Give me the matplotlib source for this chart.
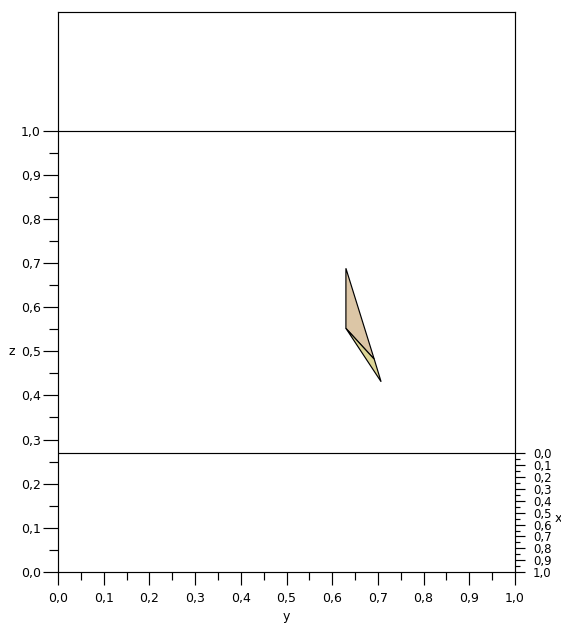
import matplotlib
matplotlib.use("Agg")
import matplotlib.pyplot as plt
from matplotlib.ticker import FuncFormatter
import numpy as np

# depth offset of the back face (x=0) in z units, oblique projection
depth = 0.2686

y_ticks = [0.0, 0.1, 0.2, 0.3, 0.4, 0.5, 0.6, 0.7, 0.8, 0.9, 1.0]
z_ticks = [0.0, 0.1, 0.2, 0.3, 0.4, 0.5, 0.6, 0.7, 0.8, 0.9, 1.0]
x_ticks = [0.0, 0.1, 0.2, 0.3, 0.4, 0.5, 0.6, 0.7, 0.8, 0.9, 1.0]
minor_ticks = [0.05, 0.15, 0.25, 0.35, 0.45, 0.55, 0.65, 0.75, 0.85, 0.95]

# projected faces of the solid (y, z)
face1_y = [0.630, 0.630, 0.692]
face1_z = [0.688, 0.552, 0.482]
face2_y = [0.630, 0.692, 0.707]
face2_z = [0.552, 0.482, 0.431]

plt.rcParams['font.family'] = ['DejaVu Sans']
comma = FuncFormatter(lambda v, _: f"{v:.1f}".replace('.', ','))
lw = 0.85

fig = plt.figure(figsize=(5.61, 6.23), dpi=100)
ax = fig.add_axes([58/561, 51/623, 457/561, 560/623])
ax.set_xlim(0, 1)
ax.set_ylim(0, 1 + depth)
for s in ax.spines.values():
    s.set_linewidth(lw)

ax.axhline(1.0, color='black', lw=lw)
ax.axhline(depth, color='black', lw=lw)

ax.fill(face1_y, face1_z, facecolor='#dcc6a6', edgecolor='black', lw=lw)
ax.fill(face2_y, face2_z, facecolor='#dcd596', edgecolor='black', lw=lw)

ax.set_xticks(y_ticks)
ax.set_xticks(minor_ticks, minor=True)
ax.set_yticks(z_ticks)
ax.set_yticks(minor_ticks, minor=True)
ax.xaxis.set_major_formatter(comma)
ax.yaxis.set_major_formatter(comma)
ax.tick_params(axis='x', which='major', length=9.4, width=lw, pad=5, labelsize=9)
ax.tick_params(axis='x', which='minor', length=5.8, width=lw)
ax.tick_params(axis='y', which='major', length=10.8, width=lw, pad=1.5, labelsize=9)
ax.tick_params(axis='y', which='minor', length=6.5, width=lw)

ax.set_xlabel('y', fontsize=9)
ax.xaxis.set_label_coords(0.5, -0.080)
ax.xaxis.label.set_va('center')
ax.set_ylabel('z', fontsize=9, rotation=0, va='center', ha='center')
ax.yaxis.set_label_coords(-0.1007, 0.5 / (1 + depth))

# x axis along the receding edge on the right
ax_x = ax.inset_axes([1.0, 0.0, 0.0005, depth], transform=ax.transData)
ax_x.set_ylim(1, 0)
ax_x.patch.set_visible(False)
for s in ax_x.spines.values():
    s.set_visible(False)
ax_x.set_xticks([])
ax_x.yaxis.tick_right()
ax_x.set_yticks(x_ticks)
ax_x.set_yticks(minor_ticks, minor=True)
ax_x.yaxis.set_major_formatter(comma)
ax_x.tick_params(axis='y', which='major', length=7.2, width=lw, pad=5.5, labelsize=8.5)
ax_x.tick_params(axis='y', which='minor', length=3.6, width=lw)
ax_x.set_ylabel('x', fontsize=9, rotation=0, va='center', ha='center')
ax_x.yaxis.set_label_position('right')
ax_x.yaxis.set_label_coords(1.094, 0.135, transform=ax.transData)

fig.savefig('out.png', dpi=100)
